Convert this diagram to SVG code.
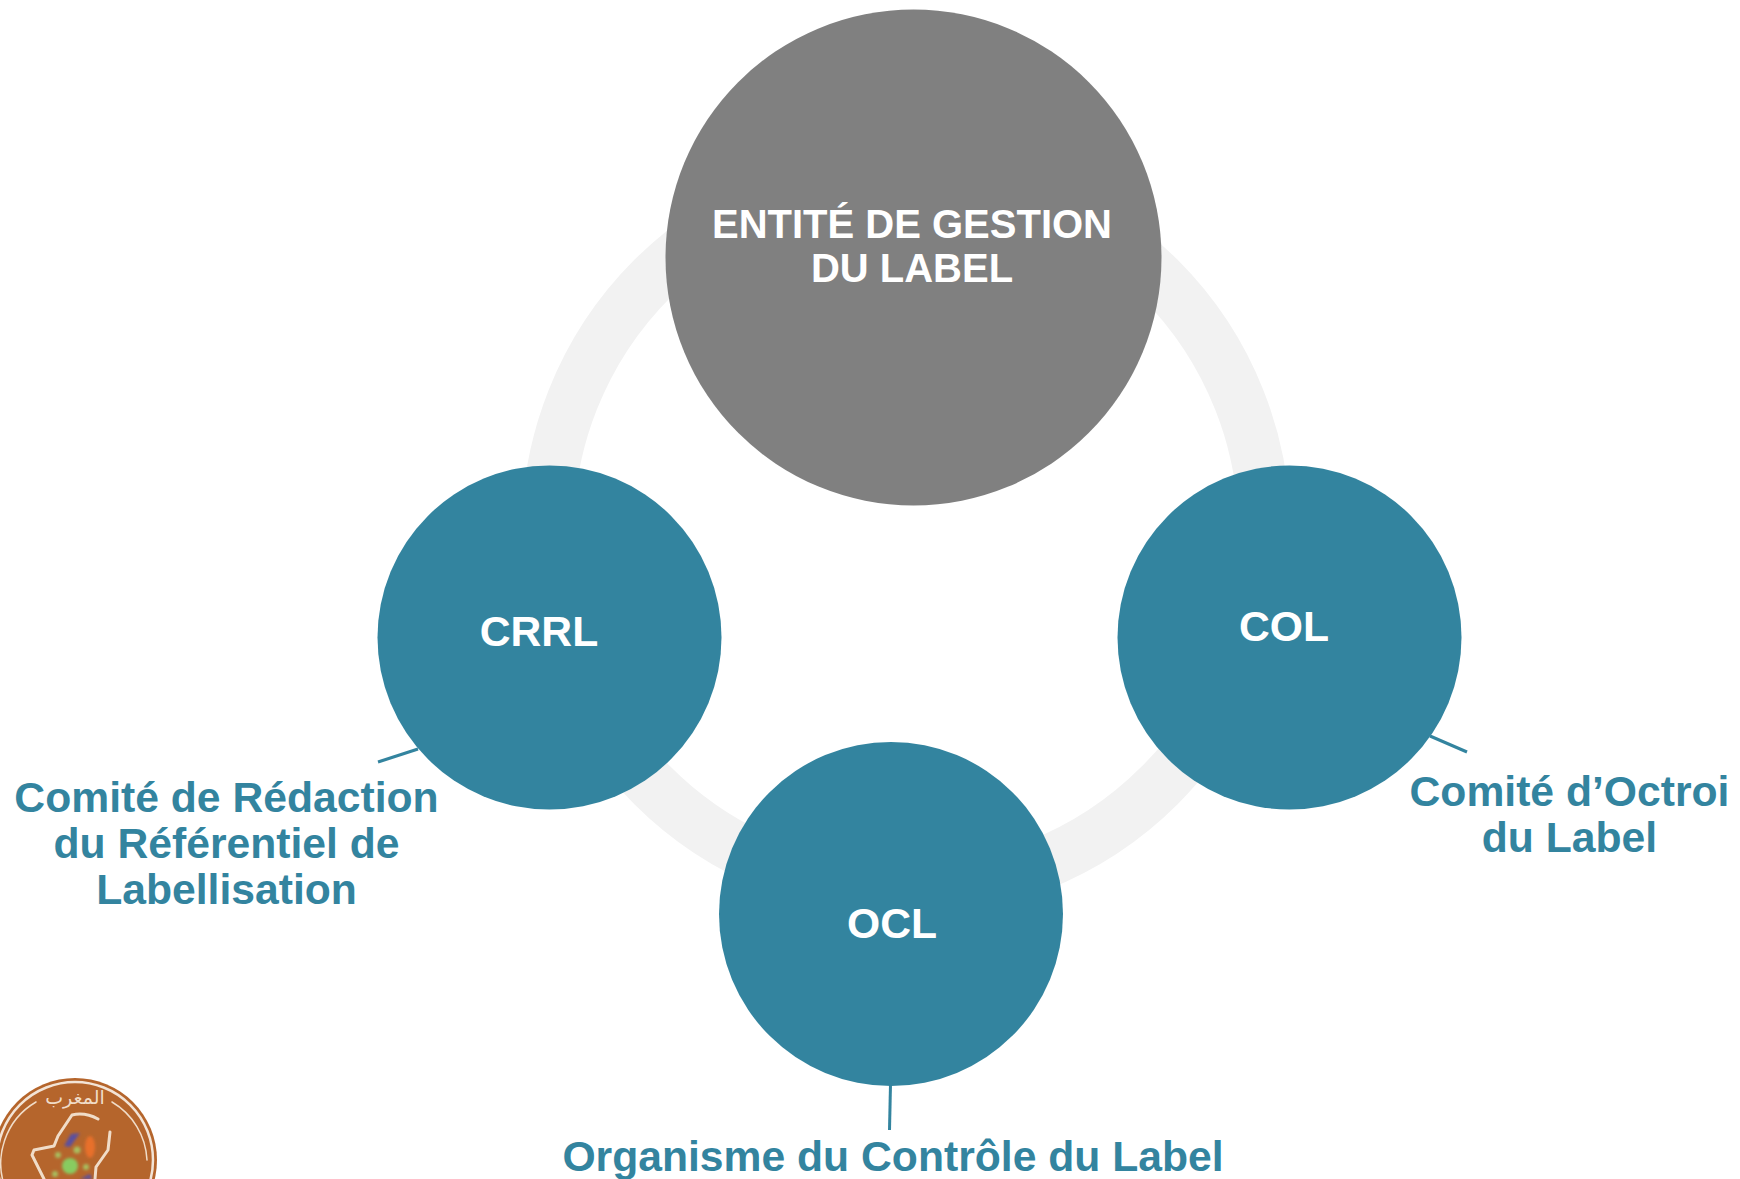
<svg xmlns="http://www.w3.org/2000/svg" width="1740" height="1179" viewBox="0 0 1740 1179">
<style>
text{font-family:"Liberation Sans",Arial,sans-serif;font-weight:700;text-anchor:middle}
.t{fill:#fff;font-size:40px}
.u{fill:#fff;font-size:42.67px}
.l{fill:#33849f;font-size:42.67px}
.n{fill:#33849f}
.c{stroke:#33849f;stroke-width:3;fill:none}
.m{fill:none;stroke:#f0dcc8;stroke-linecap:round;stroke-linejoin:round}
</style>
<defs><filter id="b" x="-30%" y="-30%" width="160%" height="160%"><feGaussianBlur stdDeviation="1.5"/></filter></defs>
<rect width="1740" height="1179" fill="#fff"/>
<circle id="ring" cx="906" cy="532" r="358.5" fill="none" stroke="#f2f2f2" stroke-width="52"/>
<g id="connectors">
<line class="c" x1="378" y1="762" x2="418" y2="749"/>
<line class="c" x1="1430" y1="736" x2="1467" y2="752"/>
<line class="c" x1="890.5" y1="1084" x2="889.5" y2="1130"/>
</g>
<g id="gestion"><circle cx="913.5" cy="257.5" r="248" fill="#808080"/>
<text class="t" x="912" y="238">ENTITÉ DE GESTION</text><text class="t" x="912" y="282">DU LABEL</text></g>
<g id="crrl"><circle class="n" cx="549.5" cy="637.5" r="172"/><text class="u" x="539" y="646">CRRL</text></g>
<g id="col"><circle class="n" cx="1289.5" cy="637.5" r="172"/><text class="u" x="1284" y="641">COL</text></g>
<g id="ocl"><circle class="n" cx="891" cy="914" r="172"/><text class="u" x="892" y="938">OCL</text></g>
<g id="label-crrl"><text class="l" x="226.5" y="812">Comité de Rédaction</text><text class="l" x="226.5" y="858">du Référentiel de</text><text class="l" x="226.5" y="904">Labellisation</text></g>
<g id="label-col"><text class="l" x="1569.5" y="806">Comité d’Octroi</text><text class="l" x="1569.5" y="852">du Label</text></g>
<g id="label-ocl"><text class="l" x="893" y="1171">Organisme du Contrôle du Label</text></g>
<g id="logo">
<circle cx="75" cy="1160" r="82" fill="#b5652c"/>
<circle cx="75" cy="1160" r="78" fill="none" stroke="#f3e4d6" stroke-width="2.5"/>
<path class="m" stroke-width="1.5" d="M6 1190A71 71 0 0 1 36 1102M112 1102A71 71 0 0 1 147 1160"/>
<path class="m" stroke-width="3" d="M98 1119Q85 1112 72 1115L58 1136 54 1146 34 1150 32 1155 44 1179M95 1179L96 1167 108 1150 110 1132"/>
<g filter="url(#b)">
<path d="M71 1134L80 1133 70 1147 64 1146Z" fill="#5a4fa0"/>
<ellipse cx="90" cy="1147" rx="5" ry="11" fill="#e8702a"/>
<circle cx="77" cy="1150" r="3.5" fill="#a8c060"/>
<circle cx="58" cy="1155" r="3" fill="#a8c060"/>
<circle cx="70" cy="1166" r="8" fill="#88cc60"/>
<circle cx="86" cy="1167" r="3" fill="#a8c060"/>
<circle cx="55" cy="1174" r="3" fill="#a8c060"/>
<path d="M80 1179L90 1174 92 1179Z" fill="#5a4fa0"/>
</g>
<text x="75" y="1104" font-size="19" fill="#f0dcc8" style="font-family:'DejaVu Sans',sans-serif;font-weight:400">المغرب</text>
</g>
</svg>
